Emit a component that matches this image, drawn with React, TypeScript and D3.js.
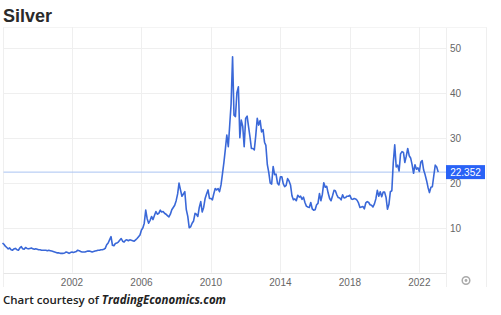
import React from "react";
import * as d3 from "d3";

const startYear = 1998;
const prices: number[] = [
  // 1998
  6.6, 6.3, 5.9, 5.6, 5.3, 5.5, 5.1, 5.0, 5.3, 5.4, 5.1, 5.0,
  // 1999
  5.5, 5.8, 5.3, 5.2, 5.6, 5.4, 5.3, 5.4, 5.5, 5.3, 5.2, 5.3,
  // 2000
  5.2, 5.1, 5.1, 5.0, 5.0, 5.0, 5.0, 4.9, 5.0, 4.9, 4.8, 4.7,
  // 2001
  4.6, 4.5, 4.4, 4.4, 4.3, 4.3, 4.3, 4.4, 4.6, 4.5, 4.3, 4.5,
  // 2002
  4.6, 4.5, 4.6, 4.7, 5.0, 4.9, 4.7, 4.6, 4.6, 4.6, 4.7, 4.8,
  // 2003
  4.8, 4.7, 4.6, 4.7, 4.8, 4.9, 5.0, 5.0, 5.1, 5.1, 5.2, 5.4,
  // 2004
  6.2, 6.6, 7.3, 8.0, 6.1, 6.0, 6.5, 6.6, 6.8, 7.2, 7.6, 7.0,
  // 2005
  6.8, 7.2, 7.3, 7.1, 7.3, 7.2, 7.1, 7.0, 7.3, 7.6, 8.0, 8.4,
  // 2006
  9.5, 10.0, 11.0, 13.9, 12.0, 11.0, 11.6, 12.5, 11.8, 12.7, 13.6, 13.0,
  // 2007
  13.2, 13.9, 13.5, 13.6, 13.2, 13.0, 12.7, 12.4, 13.0, 14.0, 14.5, 15.0,
  // 2008
  16.0, 17.5, 19.9, 18.4, 17.0, 17.5, 18.0, 14.0, 12.5, 10.0, 10.2, 11.0,
  // 2009
  11.5, 13.2, 13.0, 12.5, 14.5, 15.8, 13.5, 14.5, 16.5, 17.5, 18.4, 16.5,
  // 2010
  16.5, 16.2, 17.5, 18.7, 18.4, 18.7, 18.0, 19.5, 22.0, 24.5, 27.5, 30.6,
  // 2011
  28.0, 33.0, 37.5, 48.0, 35.0, 34.7, 40.0, 41.3, 30.0, 33.9, 32.5, 28.0,
  // 2012
  34.3, 34.8, 32.5, 30.2, 27.6, 27.6, 27.3, 30.5, 34.3, 32.8, 33.8, 31.3,
  // 2013
  31.8, 29.0, 28.3, 24.0, 22.3, 19.9, 19.7, 23.6, 21.8, 21.9, 19.9, 19.5,
  // 2014
  21.3, 21.3, 19.8, 19.1, 19.4, 20.9, 20.4, 19.5, 17.1, 16.2, 16.4, 16.0,
  // 2015
  17.2, 16.8, 17.0, 16.3, 16.8, 15.6, 14.8, 14.6, 14.5, 15.6, 14.2, 13.9,
  // 2016
  14.0, 15.1, 15.4, 17.6, 16.0, 17.4, 20.0, 19.0, 19.2, 17.7, 16.5, 16.0,
  // 2017
  17.1, 18.3, 18.2, 17.3, 16.7, 16.6, 16.2, 17.3, 16.6, 16.7, 17.0, 17.0,
  // 2018
  17.2, 16.4, 16.3, 16.5, 16.4, 16.1, 15.5, 14.5, 14.6, 14.7, 14.2, 15.5,
  // 2019
  15.8, 15.6, 15.1, 15.0, 14.6, 15.3, 16.4, 18.3, 17.0, 18.0, 16.9, 17.9,
  // 2020
  17.9, 16.7, 14.1, 15.2, 18.0, 18.2, 24.4, 28.4, 23.5, 23.9, 22.6, 26.4,
  // 2021
  26.9, 26.7, 24.5, 25.9, 27.6, 26.0, 25.5, 24.0, 22.1, 24.0, 23.0, 23.3,
  // 2022
  22.5, 24.6, 24.9, 22.8, 21.8, 20.5, 19.0, 17.8, 19.0, 19.1, 21.6, 23.9,
  // 2023
  23.5, 22.352,
];

const yTicks: number[] = [10, 20, 30, 40, 50];
const xTickYears: number[] = [2002, 2006, 2010, 2014, 2018, 2022];
const lastPrice = 22.352;
const title = "Silver";

export default function App() {
  const W = 501;
  const H = 315;
  const left = 2.5;
  const right = 446;
  const top = 27;
  const bottom = 272.7;

  const x = d3
    .scaleTime()
    .domain([new Date(1998, 0, 1), new Date(2023, 6, 15)])
    .range([left, right]);
  const y = d3.scaleLinear().domain([0, 54.6]).range([bottom, top]);

  const data = prices.map((v, i) => ({
    date: new Date(startYear + Math.floor(i / 12), i % 12, 1),
    v,
  }));

  const line = d3
    .line<{ date: Date; v: number }>()
    .x((d) => x(d.date))
    .y((d) => y(d.v))
    .curve(d3.curveLinear);

  const grid = "#efefef";
  const labelColor = "#666";
  const lastY = y(lastPrice);

  return (
    <svg
      width={W}
      height={H}
      style={{ position: "absolute", left: 0, top: 0, background: "#fff" }}
    >
      <rect x={0} y={0} width={W} height={H} fill="#fff" />
      <text
        x={3}
        y={22}
        fontFamily="Liberation Sans, Arial, sans-serif"
        fontWeight="bold"
        fontSize={18}
        fill="#2a2a2a"
      >
        {title}
      </text>

      {/* frame */}
      <line x1={3.5} x2={3.5} y1={top} y2={287} stroke={grid} />
      <line x1={486.5} x2={486.5} y1={top} y2={287} stroke={grid} />
      <line x1={446.5} x2={446.5} y1={top} y2={287} stroke={grid} />
      <line x1={3.5} x2={486.5} y1={top + 0.5} y2={top + 0.5} stroke="#f4f4f4" />

      {/* vertical gridlines */}
      {xTickYears.map((yr) => {
        const px = Math.round(x(new Date(yr, 0, 1))) + 0.5;
        return (
          <line key={yr} x1={px} x2={px} y1={top} y2={bottom} stroke={grid} />
        );
      })}

      {/* horizontal gridlines */}
      {yTicks.map((t) => {
        const py = Math.round(y(t)) + 0.5;
        return (
          <g key={t}>
            <line x1={3.5} x2={446} y1={py} y2={py} stroke={grid} />
            <text
              x={450}
              y={py}
              dy="0.35em"
              fontFamily="Liberation Sans, Arial, sans-serif"
              fontSize={10}
              fill={labelColor}
            >
              {t}
            </text>
          </g>
        );
      })}

      {/* x axis line */}
      <line x1={3.5} x2={446} y1={Math.round(bottom) + 0.5} y2={Math.round(bottom) + 0.5} stroke="#e6e6e6" />
      {xTickYears.map((yr) => (
        <text
          key={yr}
          x={x(new Date(yr, 0, 1))}
          y={282}
          dy="0.35em"
          textAnchor="middle"
          fontFamily="Liberation Sans, Arial, sans-serif"
          fontSize={10}
          fill={labelColor}
        >
          {yr}
        </text>
      ))}

      {/* last price line */}
      <line x1={3.5} x2={446} y1={lastY} y2={lastY} stroke="#a9c3f2" strokeWidth={1} />

      <path d={line(data) || ""} fill="none" stroke="#3a68d8" strokeWidth={1.6} strokeLinejoin="round" />

      {/* price label */}
      <rect x={446} y={lastY - 7} width={39} height={14} fill="#2962f6" />
      <text
        x={465.5}
        y={lastY}
        dy="0.35em"
        textAnchor="middle"
        fontFamily="Liberation Sans, Arial, sans-serif"
        fontSize={10}
        fill="#fff"
      >
        {lastPrice}
      </text>

      {/* settings icon */}
      <circle cx={466} cy={280.5} r={3.8} fill="none" stroke="#aaa" strokeWidth={1.5} />
      <circle cx={466} cy={280.5} r={1.4} fill="#aaa" />

      {/* footer */}
      <text
        x={3}
        y={304}
        fontFamily="Open Sans, sans-serif"
        fontWeight={600}
        fontSize={11.5}
        fill="#222"
      >
        Chart courtesy of{" "}
        <tspan fontStyle="italic" fontWeight={700}>
          TradingEconomics.com
        </tspan>
      </text>
    </svg>
  );
}
